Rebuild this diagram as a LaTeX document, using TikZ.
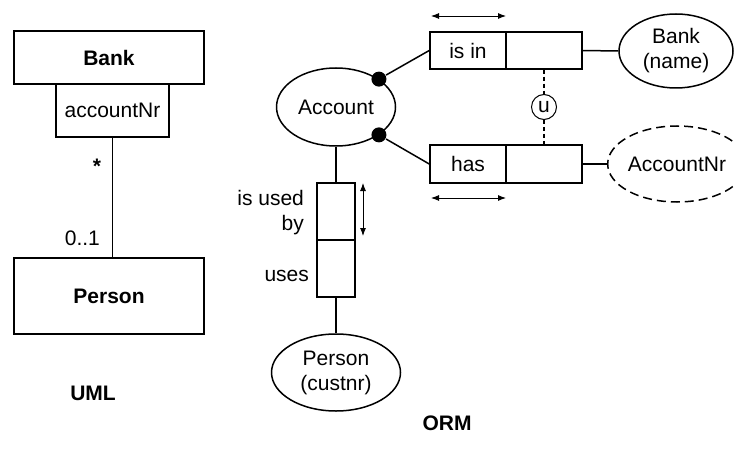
\documentclass[tikz,border=0pt]{standalone}
\usepackage{fontspec}
\setmainfont{Liberation Sans}
\usetikzlibrary{calc,shapes.geometric,arrows.meta}

\tikzset{
    umlbox/.style={draw, rectangle, inner sep=0pt, minimum width=190pt},
    rolebox/.style={draw, rectangle, inner sep=0pt},
    entity/.style={draw, ellipse, inner sep=0pt, align=center},
    roledot/.style={circle, fill, inner sep=0pt, minimum size=15pt},
    spanarrow/.style={{Latex[length=8pt,width=6pt]}-{Latex[length=8pt,width=6pt]}, line width=0.9pt}
}

\begin{document}
\begin{tikzpicture}[x=1pt, y=-1pt, line width=1.5pt,
        font=\fontsize{21}{25}\selectfont]
        % 画布大小(像素坐标,y 轴向下)
        \useasboundingbox (0,0) rectangle (735,449);

        % 左侧:UML 类图
        \node[umlbox, minimum height=53pt] (bank) at (109,57.5) {\textbf{Bank}};
        \node[rolebox, minimum width=113pt, minimum height=53pt]
            (accnrq) at (112.5,110.5) {accountNr};
        \node[umlbox, minimum height=76pt] (personc) at (109,296) {\textbf{Person}};
        \draw (accnrq.south) -- (accnrq.south |- personc.north);
        \node (star) at (97,166) {\textbf{*}};
        \node[anchor=east] (zeroone) at (104,238) {0..1};
        \node (umllabel) at (93,393) {\textbf{UML}};

        % 右侧:ORM 图
        \node[entity, minimum width=119pt, minimum height=78pt]
            (account) at (336,107) {Account};
        \node[roledot] (dotisin) at (account.33) {};
        \node[roledot] (dothas) at (account.-33) {};

        % 二元事实类型 is in / has
        \node[rolebox, minimum width=76pt, minimum height=37pt] (isinL) at (468,50.5) {is in};
        \node[rolebox, minimum width=76pt, minimum height=37pt] (isinR) at (544,50.5) {};
        \node[rolebox, minimum width=76pt, minimum height=38pt] (hasL) at (468,164) {has};
        \node[rolebox, minimum width=76pt, minimum height=38pt] (hasR) at (544,164) {};

        \node[entity, minimum width=114pt, minimum height=74pt]
            (bankname) at (676,51) {Bank\\(name)};
        \node[entity, dash pattern=on 9pt off 5pt, minimum width=116pt, minimum height=76pt]
            (accnr) at (677,164) {AccountNr};

        \draw (dotisin) -- (isinL.west);
        \draw (dothas) -- (hasL.west);
        \draw (isinR.east) -- (bankname.west);
        \draw (hasR.east) -- (accnr.west);

        % 外部唯一性约束
        \node[draw, circle, inner sep=0pt, minimum size=25pt, line width=1pt]
            (uniq) at (544,107) {u};
        \draw[line width=1.1pt, dash pattern=on 4pt off 3pt] (isinR.south) -- (uniq.north);
        \draw[line width=1.1pt, dash pattern=on 4pt off 3pt] (uniq.south) -- (hasR.north);

        % 纵向事实类型 is used by / uses
        \node[rolebox, minimum width=38pt, minimum height=57pt] (usedby) at (336,211.5) {};
        \node[rolebox, minimum width=38pt, minimum height=57pt] (uses) at (336,268.5) {};
        \node[entity, minimum width=129pt, minimum height=77pt]
            (person) at (336,372.5) {Person\\(custnr)};
        \draw (account.south) -- (usedby.north);
        \draw (uses.south) -- (person.north);
        \node[anchor=east, align=right] (usedbylabel) at (308,213) {is used\\by};
        \node[anchor=east] (useslabel) at (313,276) {uses};

        % 唯一性箭头
        \coordinate (isinA) at (431,16);
        \coordinate (isinB) at (506,16);
        \coordinate (hasA) at (431,198);
        \coordinate (hasB) at (506,198);
        \coordinate (usedA) at (363,183);
        \coordinate (usedB) at (363,236);
        \draw[spanarrow] (isinA) -- (isinB);
        \draw[spanarrow] (hasA) -- (hasB);
        \draw[spanarrow] (usedA) -- (usedB);

        \node (ormlabel) at (447,423) {\textbf{ORM}};
    \end{tikzpicture}
\end{document}
